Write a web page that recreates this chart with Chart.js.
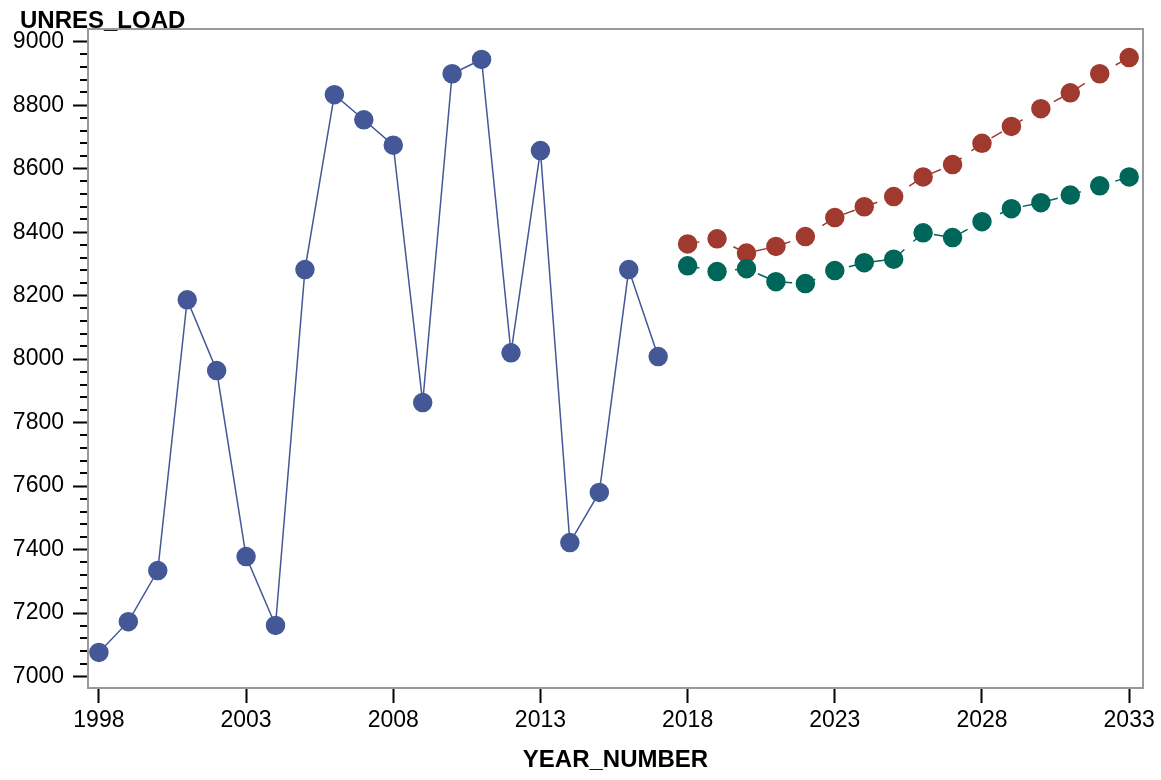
<!DOCTYPE html>
<html>
<head>
<meta charset="utf-8">
<script src="https://cdn.jsdelivr.net/npm/chart.js@4/dist/chart.umd.min.js"></script>
<style>
  body { margin: 0; background: #fff; }
</style>
</head>
<body>
<canvas id="chart" width="1161" height="780"></canvas>
<script>
// history
const histYears = [1998, 1999, 2000, 2001, 2002, 2003, 2004, 2005, 2006, 2007,
                   2008, 2009, 2010, 2011, 2012, 2013, 2014, 2015, 2016, 2017]
const histLoad = [7076, 7173, 7334, 8187, 7964, 7378, 7161, 8282, 8833, 8754,
                  8674, 7863, 8899, 8944, 8020, 8657, 7422, 7580, 8282, 8008]

// forecasts
const fcYears = [2018, 2019, 2020, 2021, 2022, 2023, 2024, 2025,
                 2026, 2027, 2028, 2029, 2030, 2031, 2032, 2033]
const fcHigh = [8363, 8379, 8334, 8355, 8386, 8446, 8480, 8512,
                8574, 8613, 8680, 8733, 8789, 8839, 8899, 8950]
const fcLow = [8294, 8276, 8285, 8244, 8238, 8279, 8304, 8315,
               8398, 8383, 8433, 8474, 8493, 8517, 8546, 8574]

const xTicks = [1998, 2003, 2008, 2013, 2018, 2023, 2028, 2033]
const yTicks = [7000, 7200, 7400, 7600, 7800, 8000, 8200, 8400, 8600, 8800, 9000]

const BLUE = "#445898"
const RED = "#a03a2e"
const GREEN = "#00665a"

const FONT = "'Liberation Sans', Arial, sans-serif"

const pts = (xs, ys) => xs.map((x, i) => ({ x: x, y: ys[i] }))


// grey frame, minor y ticks and the y title sitting above the axis
const framePlugin = {
       id: "frame",
       afterDraw(chart) {
              const ctx = chart.ctx
              const a = chart.chartArea
              const y = chart.scales.y
              ctx.save()
              ctx.strokeStyle = "#000"
              ctx.lineWidth = 2
              for (let v = 7040; v < 9000; v += 40) {
                     if (v % 200 === 0) continue
                     const py = Math.round(y.getPixelForValue(v))
                     ctx.beginPath()
                     ctx.moveTo(a.left - 8, py)
                     ctx.lineTo(a.left, py)
                     ctx.stroke()
              }
              ctx.strokeStyle = "#9a9a9a"
              ctx.strokeRect(a.left, a.top, a.right - a.left, a.bottom - a.top)

              ctx.fillStyle = "#000"
              ctx.font = "bold 24px " + FONT
              ctx.textAlign = "left"
              ctx.textBaseline = "alphabetic"
              ctx.fillText("UNRES_LOAD", 20, 28)
              ctx.restore()
       }
}


new Chart(document.getElementById("chart"), {
       type: "line",
       data: {
              datasets: [
                     {
                            data: pts(histYears, histLoad),
                            borderColor: BLUE,
                            backgroundColor: BLUE,
                            borderWidth: 1.5,
                            pointRadius: 9,
                            pointBorderWidth: 1.5,
                            pointBorderColor: BLUE,
                            order: 3
                     },
                     {
                            data: pts(fcYears, fcHigh),
                            borderColor: RED,
                            backgroundColor: RED,
                            borderWidth: 1.5,
                            borderDash: [12, 12],
                            pointRadius: 9,
                            pointBorderWidth: 1.5,
                            pointBorderColor: RED,
                            order: 2
                     },
                     {
                            data: pts(fcYears, fcLow),
                            borderColor: GREEN,
                            backgroundColor: GREEN,
                            borderWidth: 1.5,
                            borderDash: [12, 12],
                            pointRadius: 9,
                            pointBorderWidth: 1.5,
                            pointBorderColor: GREEN,
                            order: 1
                     }
              ]
       },
       options: {
              responsive: false,
              animation: false,
              layout: { padding: { left: 0, right: 18, top: 29, bottom: 0 } },
              plugins: {
                     legend: { display: false },
                     tooltip: { enabled: false }
              },
              scales: {
                     x: {
                            type: "linear",
                            min: 1997.63,
                            max: 2033.47,
                            afterBuildTicks: s => { s.ticks = xTicks.map(v => ({ value: v })) },
                            afterFit: s => { s.height = 92 },
                            border: { display: false },
                            grid: {
                                   drawOnChartArea: false,
                                   tickLength: 15,
                                   tickWidth: 2,
                                   tickColor: "#000"
                            },
                            ticks: {
                                   color: "#000",
                                   padding: 4,
                                   maxRotation: 0,
                                   autoSkip: false,
                                   font: { family: FONT, size: 23 },
                                   callback: v => String(v)
                            },
                            title: {
                                   display: true,
                                   text: "YEAR_NUMBER",
                                   color: "#000",
                                   font: { family: FONT, size: 24, weight: "bold", lineHeight: 1 },
                                   padding: { top: 0, bottom: 8 }
                            }
                     },
                     y: {
                            min: 6964,
                            max: 9040,
                            afterBuildTicks: s => { s.ticks = yTicks.map(v => ({ value: v })) },
                            afterFit: s => { s.width = 88 },
                            border: { display: false },
                            grid: {
                                   drawOnChartArea: false,
                                   tickLength: 15,
                                   tickWidth: 2,
                                   tickColor: "#000"
                            },
                            ticks: {
                                   color: "#000",
                                   padding: 9,
                                   autoSkip: false,
                                   font: { family: FONT, size: 23 },
                                   callback: v => String(v)
                            }
                     }
              }
       },
       plugins: [framePlugin]
})
</script>
</body>
</html>
